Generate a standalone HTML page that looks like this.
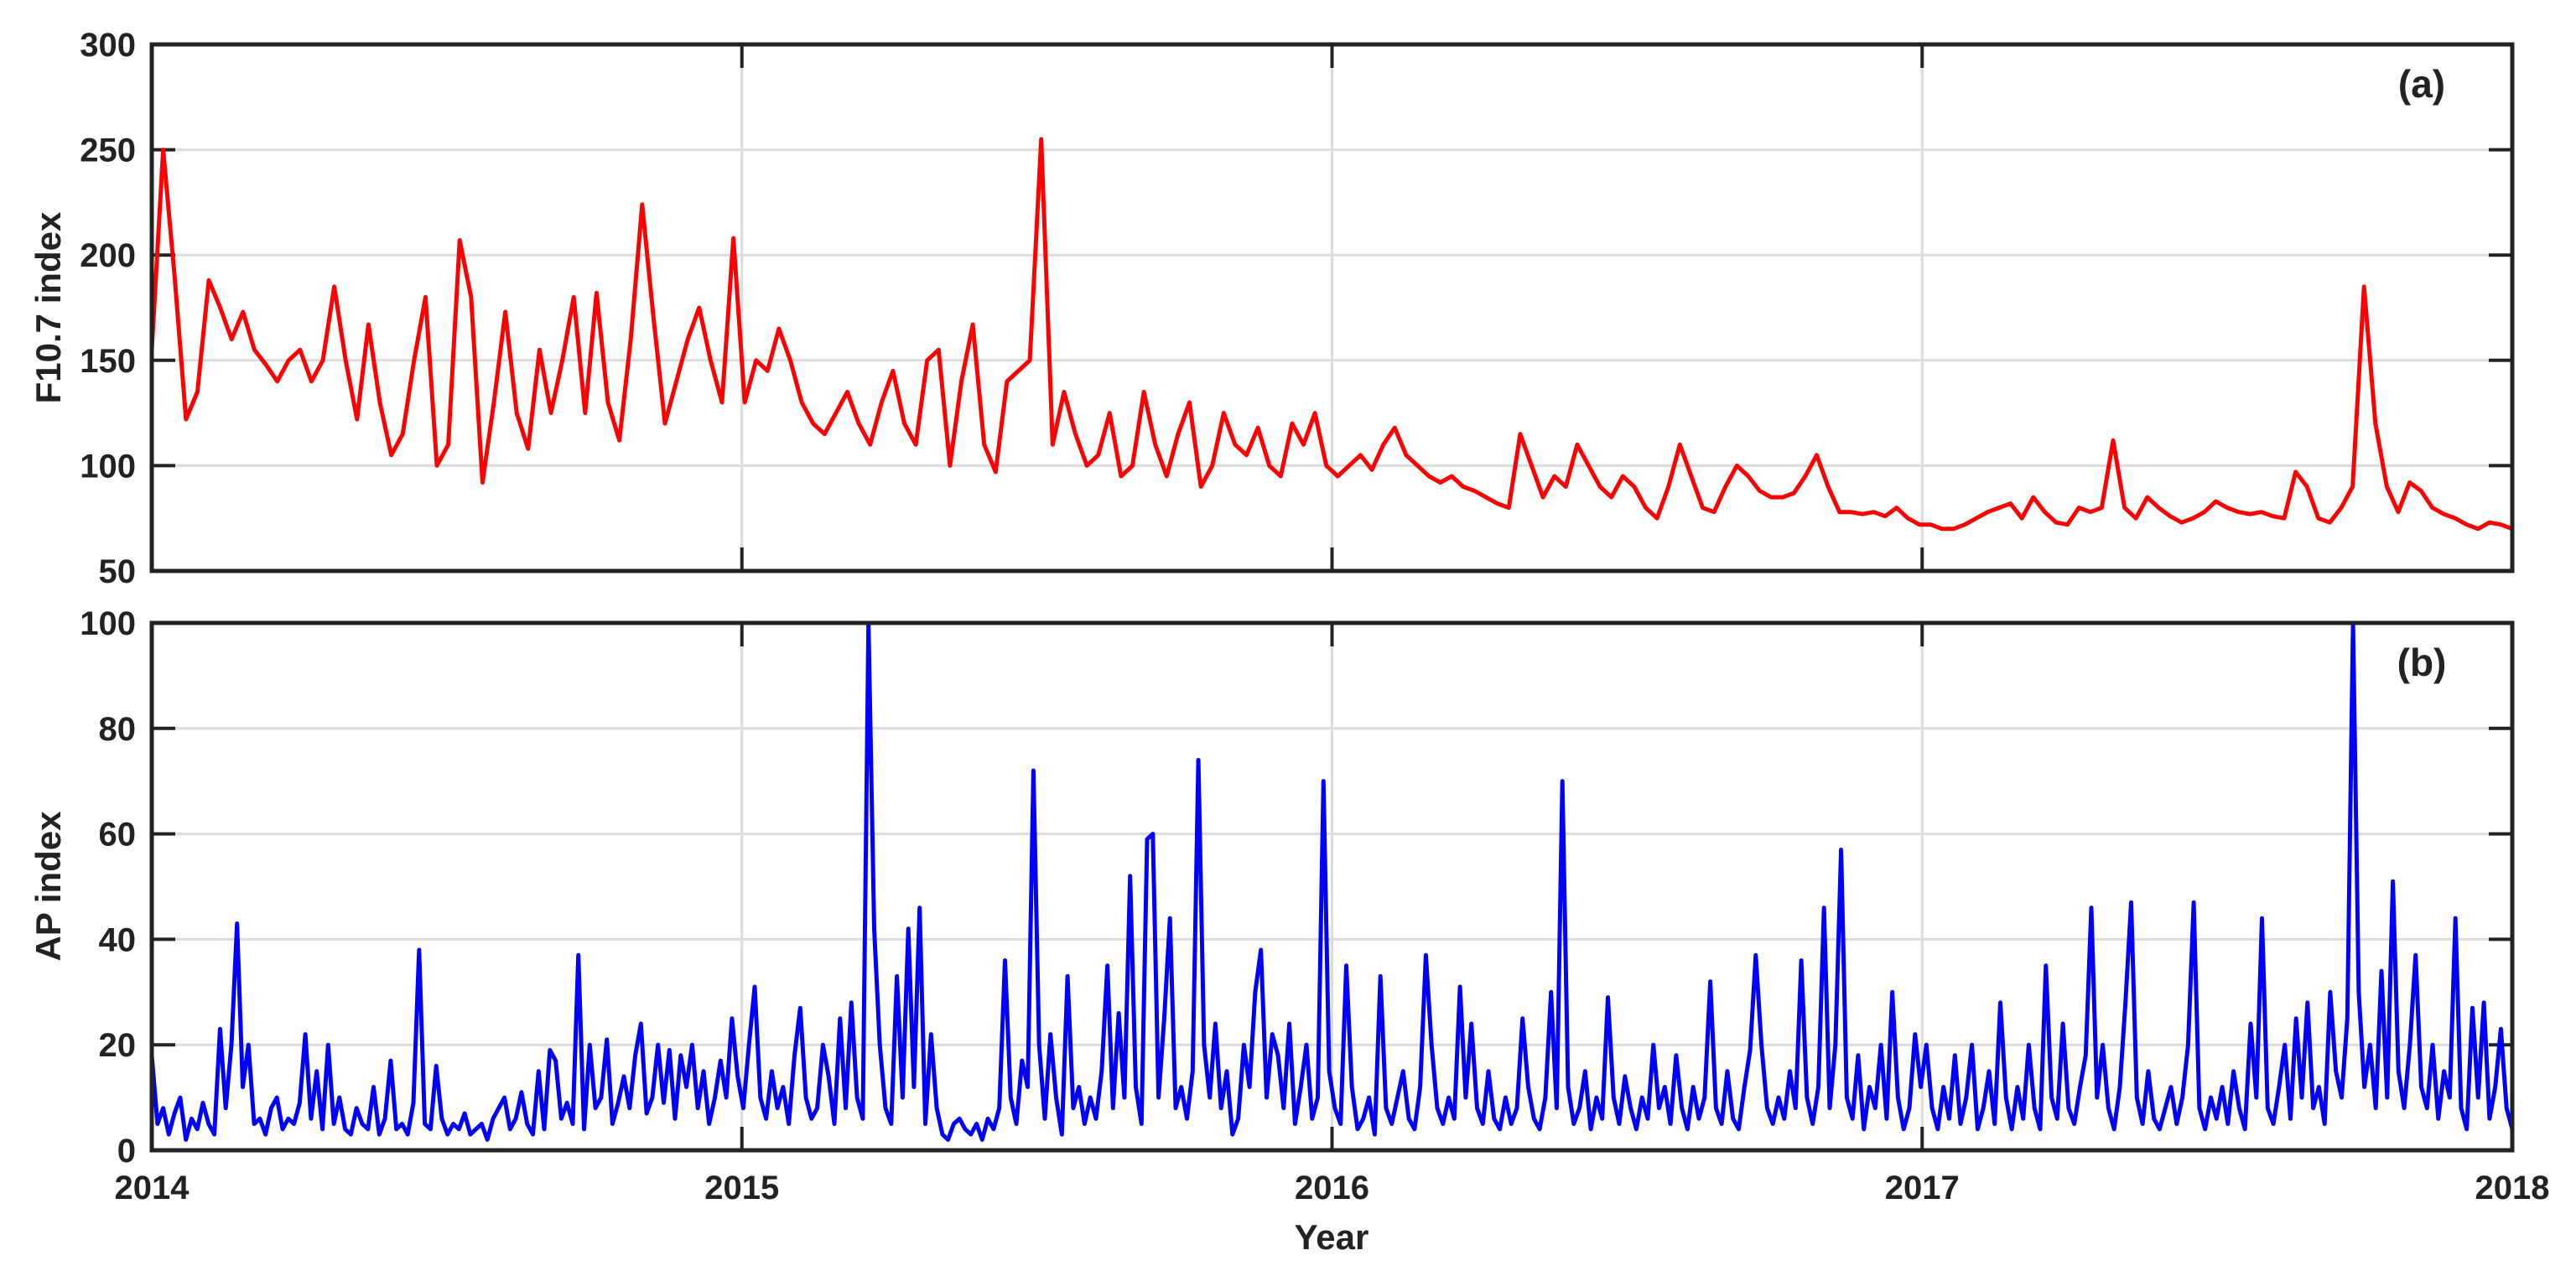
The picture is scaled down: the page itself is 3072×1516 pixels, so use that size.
<!DOCTYPE html>
<html><head><meta charset="utf-8">
<style>
html,body{margin:0;padding:0;background:#fff;}
svg{display:block;}
text{font-family:"Liberation Sans",Arial,sans-serif;font-weight:bold;fill:#222;}
</style></head>
<body>
<svg id="chart" width="3072" height="1516" viewBox="0 0 3072 1516" xmlns="http://www.w3.org/2000/svg">
<g id="gA"></g>
<g id="gB"></g>
<text x="0" y="0" font-size="42" text-anchor="middle" transform="translate(72,367) rotate(-90)">F10.7 index</text>
<text x="0" y="0" font-size="42" text-anchor="middle" transform="translate(72,1057) rotate(-90)">AP index</text>
<text x="1588" y="1490" font-size="42" text-anchor="middle">Year</text>
<text x="2888" y="116" font-size="46" text-anchor="middle">(a)</text>
<text x="2888" y="806" font-size="46" text-anchor="middle">(b)</text>
</svg>
<script>
const yearTicks = [2014, 2015, 2016, 2017, 2018];
const f107Ticks = [50, 100, 150, 200, 250, 300];
const apTicks = [0, 20, 40, 60, 80, 100];
const f107Values = [
155,250,190,122,135,188,175,160,173,155,148,140,150,155,140,150,185,150,122,167,130,105,115,150,180,100,110,207,180,92,130,173,125,108,155,125,150,180,125,182,130,112,160,224,170,120,140,160,175,150,130,208,
130,150,145,165,150,130,120,115,125,135,120,110,130,145,120,110,150,155,100,140,167,110,97,140,145,150,255,110,135,115,100,105,125,95,100,135,110,95,115,130,90,100,125,110,105,118,100,95,120,110,125,100,
95,100,105,98,110,118,105,100,95,92,95,90,88,85,82,80,115,100,85,95,90,110,100,90,85,95,90,80,75,90,110,95,80,78,90,100,95,88,85,85,87,95,105,90,78,78,77,78,76,80,75,72,
72,70,70,72,75,78,80,82,75,85,78,73,72,80,78,80,112,80,75,85,80,76,73,75,78,83,80,78,77,78,76,75,97,90,75,73,80,90,185,120,90,78,92,88,80,77,75,72,70,73,72,70];
const apValues = [
18,5,8,3,7,10,2,6,4,9,5,3,23,8,20,43,12,20,5,6,3,8,10,4,6,5,9,22,6,15,4,20,5,10,4,3,8,5,4,12,3,6,17,4,5,3,9,38,5,4,16,6,3,5,4,7,3,4,5,2,6,8,10,4,6,11,5,3,15,4,19,17,6,9,5,37,4,20,8,10,21,5,9,14,8,18,24,7,10,20,9,19,6,18,12,20,8,15,5,10,17,10,25,14,
8,20,31,10,6,15,8,12,5,18,27,10,6,8,20,14,5,25,8,28,10,6,100,42,20,8,5,33,10,42,12,46,5,22,8,3,2,5,6,4,3,5,2,6,4,8,36,10,5,17,12,72,20,6,22,10,3,33,8,12,5,10,6,15,35,8,26,10,52,12,5,59,60,10,25,44,8,12,6,15,74,20,10,24,8,15,3,6,20,12,30,38,10,22,18,8,24,5,12,20,6,10,70,15,
8,5,35,12,4,6,10,3,33,8,5,10,15,6,4,12,37,20,8,5,10,6,31,10,24,8,5,15,6,4,10,5,8,25,12,6,4,10,30,8,70,12,5,8,15,4,10,6,29,10,5,14,8,4,10,6,20,8,12,5,18,8,4,12,6,10,32,8,5,15,6,4,12,19,37,20,8,5,10,6,15,8,36,10,5,12,46,8,20,57,10,6,18,4,12,8,20,6,30,10,4,8,22,12,
20,8,4,12,6,18,5,10,20,4,8,15,5,28,10,4,12,6,20,8,4,35,10,6,24,8,5,12,18,46,10,20,8,4,12,28,47,10,5,15,6,4,8,12,5,10,20,47,8,4,10,6,12,5,15,8,4,24,10,44,8,5,12,20,6,25,10,28,8,12,5,30,15,10,25,100,30,12,20,8,34,10,51,15,8,20,37,12,8,20,6,15,10,44,8,4,27,10,28,6,12,23,8,4];

const NS = 'http://www.w3.org/2000/svg';
const X0 = 181, X1 = 2996;
function xScale(t){ return X0 + (t - 2014) / 4 * (X1 - X0); }
function mk(tag, attrs, parent){ const e = document.createElementNS(NS, tag); for (const k in attrs) e.setAttribute(k, attrs[k]); parent.appendChild(e); return e; }

function panel(g, top, bottom, vmin, vmax, ticks, values, color, showX, key){
  const yScale = v => bottom - (v - vmin) / (vmax - vmin) * (bottom - top);
  ticks.forEach(v => {
    const y = yScale(v);
    if (v !== vmin && v !== vmax) {
      const gl = mk('line', {x1:X0, x2:X1, y1:y, y2:y, stroke:'#dcdcdc', 'stroke-width':3}, g);
      
      
    }
    const t1 = mk('line', {x1:X0, x2:X0+28, y1:y, y2:y, stroke:'#222', 'stroke-width':4}, g);
    
    
    const t2 = mk('line', {x1:X1-28, x2:X1, y1:y, y2:y, stroke:'#222', 'stroke-width':4}, g);
    
    
    const tx = mk('text', {x:162, y:y+14, 'font-size':40, 'text-anchor':'end'}, g);
    tx.textContent = v;
    
    
  });
  yearTicks.forEach(yr => {
    const x = xScale(yr);
    if (yr !== 2014 && yr !== 2018) {
      const gl = mk('line', {x1:x, x2:x, y1:top, y2:bottom, stroke:'#dcdcdc', 'stroke-width':3}, g);
      
      
    }
    const a = mk('line', {x1:x, x2:x, y1:top, y2:top+28, stroke:'#222', 'stroke-width':4}, g);
    
    
    const b = mk('line', {x1:x, x2:x, y1:bottom-28, y2:bottom, stroke:'#222', 'stroke-width':4}, g);
    
    
    if (showX) {
      const tx = mk('text', {x:x, y:bottom+58, 'font-size':40, 'text-anchor':'middle'}, g);
      tx.textContent = yr;
      
      
    }
  });
  const n = values.length;
  const pts = values.map((v, i) => xScale(2014 + 4 * i / (n - 1)).toFixed(1) + ',' + yScale(Math.min(v, vmax)).toFixed(1)).join(' ');
  const line = mk('polyline', {points:pts, fill:'none', stroke:color, 'stroke-width':5, 'stroke-linejoin':'round'}, g);
  
  
  const frame = mk('rect', {x:X0, y:top, width:X1-X0, height:bottom-top, fill:'none', stroke:'#222', 'stroke-width':5}, g);
  
  
}
panel(document.getElementById('gA'), 53, 681, 50, 300, f107Ticks, f107Values, '#ff0000', false, 'f107');
panel(document.getElementById('gB'), 743, 1372, 0, 100, apTicks, apValues, '#0000ff', true, 'ap');
</script>
</body></html>
